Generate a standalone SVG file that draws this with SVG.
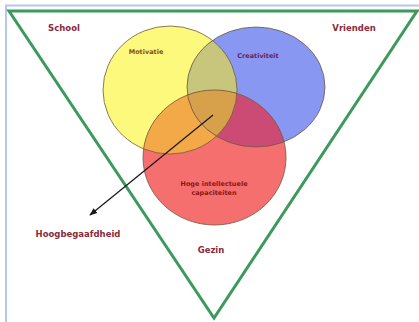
<svg xmlns="http://www.w3.org/2000/svg" width="419" height="322" viewBox="0 0 419 322">
<defs>
<style>
.lbl{font-family:"DejaVu Sans","Liberation Sans",sans-serif;font-weight:bold;text-anchor:middle;}
.big{font-size:8.5px;fill:#8a2a3c;}
.small{font-size:6.5px;}
.ring{fill:none;stroke:#6e5a40;stroke-width:1;stroke-opacity:0.8;}
</style>
<clipPath id="cY"><ellipse cx="170" cy="90" rx="67" ry="64"/></clipPath>
<clipPath id="cB"><ellipse cx="256" cy="87" rx="69" ry="60"/></clipPath>
<clipPath id="cR"><ellipse cx="214.5" cy="157.5" rx="71.5" ry="67.5"/></clipPath>
<marker id="ah" viewBox="0 0 10 10" refX="9" refY="5" markerWidth="6" markerHeight="6" orient="auto">
<path d="M0,1 L10,5 L0,9 Z" fill="#1a1a1a"/>
</marker>
</defs>
<rect width="419" height="322" fill="#ffffff"/>
<path d="M6,322 L6,5.5 L419,5.5" fill="none" stroke="#b4c8f0" stroke-width="2"/>
<g id="frame">
<polygon points="9,11 417,11 214,318" fill="none" stroke="#3d9a5c" stroke-width="3" stroke-linejoin="miter"/>
</g>
<g id="venn">
<g id="motivatie-circle"><ellipse cx="170" cy="90" rx="67" ry="64" fill="#fcf97c"/></g>
<g id="creativiteit-circle"><ellipse cx="256" cy="87" rx="69" ry="60" fill="#8898f2"/></g>
<g id="capaciteiten-circle"><ellipse cx="214.5" cy="157.5" rx="71.5" ry="67.5" fill="#f56f6f"/></g>
<g clip-path="url(#cY)"><ellipse cx="256" cy="87" rx="69" ry="60" fill="#c8c67c"/></g>
<g clip-path="url(#cY)"><ellipse cx="214.5" cy="157.5" rx="71.5" ry="67.5" fill="#f4a948"/></g>
<g clip-path="url(#cB)"><ellipse cx="214.5" cy="157.5" rx="71.5" ry="67.5" fill="#cc4b74"/></g>
<g clip-path="url(#cY)"><g clip-path="url(#cB)"><ellipse cx="214.5" cy="157.5" rx="71.5" ry="67.5" fill="#d7a04a"/></g></g>
<ellipse class="ring" cx="170" cy="90" rx="67" ry="64"/>
<ellipse class="ring" cx="256" cy="87" rx="69" ry="60"/>
<ellipse class="ring" cx="214.5" cy="157.5" rx="71.5" ry="67.5"/>
</g>
<g id="connectors">
<line x1="213" y1="115" x2="90" y2="215" stroke="#1a1a1a" stroke-width="1.3" marker-end="url(#ah)"/>
</g>
<g id="labels">
<text class="lbl big" x="64" y="31">School</text>
<text class="lbl big" x="354" y="31">Vrienden</text>
<text class="lbl small" x="146" y="54" fill="#8a5010">Motivatie</text>
<text class="lbl small" x="258" y="58" fill="#6a1f62">Creativiteit</text>
<text class="lbl small" x="214" y="186" fill="#8a1616">Hoge intellectuele</text>
<text class="lbl small" x="214" y="195" fill="#8a1616">capaciteiten</text>
<text class="lbl big" x="78" y="237">Hoogbegaafdheid</text>
<text class="lbl big" x="211" y="253">Gezin</text>
</g>
</svg>
